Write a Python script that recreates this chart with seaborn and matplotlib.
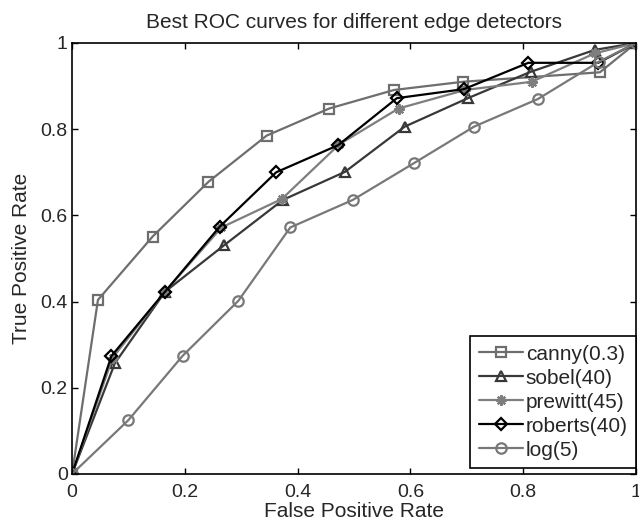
import numpy as np
import pandas as pd
import matplotlib
matplotlib.use('Agg')
import matplotlib.pyplot as plt
import seaborn as sns

# ROC points
canny_fpr = [0, 0.046, 0.143, 0.242, 0.345, 0.456, 0.571, 0.693, 0.936, 1]
canny_tpr = [0, 0.404, 0.551, 0.678, 0.785, 0.848, 0.891, 0.910, 0.932, 1]

sobel_fpr = [0, 0.076, 0.165, 0.270, 0.374, 0.484, 0.590, 0.702, 0.813, 0.927, 1]
sobel_tpr = [0, 0.257, 0.423, 0.531, 0.636, 0.701, 0.806, 0.872, 0.933, 0.984, 1]

prewitt_fpr = [0, 0.072, 0.165, 0.265, 0.372, 0.474, 0.579, 0.697, 0.815, 0.927, 1]
prewitt_tpr = [0, 0.270, 0.423, 0.572, 0.638, 0.765, 0.848, 0.891, 0.910, 0.976, 1]

roberts_fpr = [0, 0.070, 0.165, 0.262, 0.362, 0.472, 0.576, 0.695, 0.809, 0.933, 1]
roberts_tpr = [0, 0.274, 0.423, 0.574, 0.700, 0.763, 0.872, 0.893, 0.954, 0.954, 1]

log_fpr = [0, 0.100, 0.196, 0.295, 0.387, 0.498, 0.606, 0.713, 0.826, 0.935, 1]
log_tpr = [0, 0.125, 0.274, 0.402, 0.572, 0.636, 0.721, 0.806, 0.870, 0.957, 1]

labels = ['canny(0.3)', 'sobel(40)', 'prewitt(45)', 'roberts(40)', 'log(5)']
tick_vals = [0, 0.2, 0.4, 0.6, 0.8, 1]
tick_labels = ['0', '0.2', '0.4', '0.6', '0.8', '1']

series = [
    (canny_fpr, canny_tpr, 's', '#6e6e6e'),
    (sobel_fpr, sobel_tpr, '^', '#383838'),
    (prewitt_fpr, prewitt_tpr, (8, 2, 0), '#7e7e7e'),
    (roberts_fpr, roberts_tpr, 'D', '#000000'),
    (log_fpr, log_tpr, 'o', '#787878'),
]

sns.set_style('ticks')
plt.rcParams['font.family'] = ['Liberation Sans', 'DejaVu Sans']
plt.rcParams['xtick.direction'] = 'in'
plt.rcParams['ytick.direction'] = 'in'

fig = plt.figure(figsize=(6.39, 5.23), dpi=100)
ax = fig.add_axes([0.1127, 0.0937, 0.8826, 0.8241])

for (fx, ty, mk, col), lab in zip(series, labels):
    df = pd.DataFrame({'fpr': fx, 'tpr': ty})
    msize = 6.5 if mk == 'D' else 7.5
    sns.lineplot(data=df, x='fpr', y='tpr', sort=False, ax=ax, color=col,
                 marker=mk, markersize=msize, markerfacecolor='none',
                 markeredgecolor=col, markeredgewidth=1.6, linewidth=1.6,
                 label=lab)

ax.set_xlim(0, 1)
ax.set_ylim(0, 1)
ax.set_xticks(tick_vals)
ax.set_xticklabels(tick_labels)
ax.set_yticks(tick_vals)
ax.set_yticklabels(tick_labels)
ax.tick_params(axis='both', labelsize=14, top=True, right=True, length=4.5,
               width=1, color='black')
ax.tick_params(axis='x', pad=7)
ax.tick_params(axis='y', pad=3)
for sp in ax.spines.values():
    sp.set_visible(True)
    sp.set_color('black')
    sp.set_linewidth(1.2)

ax.set_xlabel('False Positive Rate', fontsize=15, labelpad=1)
ax.set_ylabel('True Positive Rate', fontsize=15, labelpad=7)
ax.set_title('Best ROC curves for different edge detectors', fontsize=15, pad=11)

leg = ax.legend(loc='lower right', bbox_to_anchor=(1.0, 0.014), fontsize=15,
                frameon=True, fancybox=False, edgecolor='black', framealpha=1,
                handlelength=2.1, handletextpad=0.15, labelspacing=0.24,
                borderpad=0.4, borderaxespad=0)
leg.get_frame().set_linewidth(1.2)

fig.savefig('out.png', dpi=100)
